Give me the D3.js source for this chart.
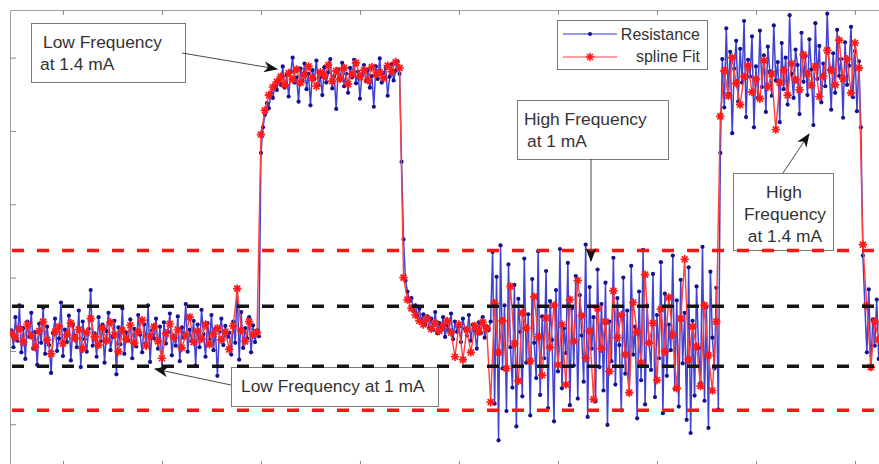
<!DOCTYPE html>
<html>
<head>
<meta charset="utf-8">
<script src="https://cdn.jsdelivr.net/npm/d3@7"></script>
<style>
  body { margin: 0; background: #fff; }
  svg { display: block; font-family: "Liberation Sans", Arial, sans-serif; }
</style>
</head>
<body>
<svg id="chart" width="879" height="464"></svg>
<script>
// Sampling grid of the measurement (x in sample units)
var sampleStart = 48, sampleStep = 2, fitStep = 4;

// Resistance readings, one array per test phase
var lowFreq1mA = [
  228, 205, 246, 214, 262, 198, 231, 189, 240, 219,
  252, 203, 226, 181, 237, 211, 259, 196, 233, 208,
  170, 224, 244, 200, 217, 266, 193, 229, 212, 248,
  187, 235, 221, 205, 255, 178, 240, 216, 199, 230,
  283, 207, 224, 192, 246, 213, 236, 184, 227, 252,
  201, 219, 241, 168, 232, 209, 258, 196, 225, 214,
  243, 190, 230, 206, 249, 222, 198, 236, 211, 262,
  185, 228, 217, 244, 203, 233, 175, 239, 210, 226,
  251, 194, 221, 207, 247, 186, 232, 218, 264, 199,
  229, 213, 241, 180, 236, 205, 256, 223, 192, 238,
  215, 249, 201, 230, 166, 226, 244, 208, 234, 219,
  225, 195, 240, 211, 286, 188, 253, 204, 231, 217,
  246, 198, 235, 212, 228, 220
];
var lowFreq14mA = [
  470, 505, 522, 538, 531, 552, 545, 561, 556, 570,
  563, 588, 559, 576, 547, 581, 600, 566, 573, 540,
  585, 569, 592, 557, 578, 535, 583, 571, 596, 562,
  574, 549, 587, 566, 580, 598, 558, 575, 530, 584,
  570, 593, 561, 578, 552, 586, 573, 597, 565, 581,
  544, 577, 590, 568, 583, 559, 575, 533, 588, 571,
  599, 566, 579, 586, 548, 574, 591, 569, 582, 595,
  578
];
var recovery = [
  458, 352, 296, 281, 268, 272, 255, 262, 248, 258,
  241, 250, 236, 247, 232, 244, 229, 253, 224, 238,
  231, 246, 219, 235, 228, 251, 216, 240, 226, 233,
  212, 244, 230, 221, 249, 214, 236, 227, 203, 239,
  224, 246, 218, 233, 228
];
var highFreq1mA = [
  240, 335, 128, 301, 78, 344, 176, 262, 118, 318,
  205, 150, 290, 97, 271, 226, 138, 326, 184, 250,
  112, 298, 211, 163, 336, 140, 247, 190, 309, 122,
  268, 215, 104, 283, 172, 339, 149, 231, 197, 320,
  126, 258, 180, 302, 135, 276, 221, 158, 345, 110,
  287, 203, 246, 131, 311, 178, 264, 146, 293, 99,
  240, 186, 327, 154, 272, 208, 119, 300, 169, 255,
  142, 316, 195, 233, 108, 281, 160, 338, 127, 262,
  212, 174, 305, 137, 249, 190, 321, 115, 278, 166,
  236, 201, 330, 148, 269, 124, 297, 183, 252, 106,
  314, 88, 241, 139, 288, 204, 157, 342, 132, 260,
  95, 308, 218, 176, 286, 120
];
var highFreq14mA = [
  470, 598, 532, 640, 551, 608, 497, 585, 623, 540,
  612, 566, 650, 519, 597, 574, 629, 505, 588, 545,
  637, 560, 603, 526, 615, 581, 548, 644, 569, 594,
  512, 620, 557, 600, 536, 658, 578, 545, 611, 590,
  523, 634, 567, 602, 549, 625, 584, 508, 647, 571,
  616, 539, 592, 561, 660, 583, 529, 606, 552, 638,
  575, 598, 518, 621, 563, 589, 642, 546, 609, 527,
  595, 505
];
var tail = [330, 262, 198, 284, 176, 243, 207, 270, 189, 236];

// Spline fit values (every second sample)
var fitLow1mA = [
  224, 218, 230, 212, 236, 221, 205, 227, 240, 215,
  196, 226, 233, 210, 222, 238, 217, 229, 203, 225,
  244, 219, 208, 231, 214, 239, 222, 199, 228, 216,
  235, 211, 226, 242, 207, 220, 233, 213, 190, 224,
  237, 218, 229, 204, 221, 246, 212, 227, 216, 236,
  209, 223, 231, 215, 226, 202, 234, 285, 228, 213,
  240, 222, 225
];
var fitLow14mA = [
  495, 528, 549, 560, 567, 574, 563, 579, 570, 584,
  566, 577, 588, 572, 561, 580, 575, 590, 568, 582,
  571, 586, 564, 578, 593, 574, 583, 569, 587, 577,
  580, 572, 589, 581, 594, 586
];
var fitRecovery = [
  300, 270, 258, 249, 241, 236, 244, 230, 238, 227,
  233, 241, 225, 192, 236, 188, 229, 198, 234, 226,
  239, 231
];
var fitHigh1mA = [
  130, 265, 198, 241, 176, 288, 210, 159, 252, 231,
  186, 274, 219, 167, 245, 205, 262, 181, 236, 154,
  270, 213, 296, 248, 190, 227, 134, 258, 203, 240,
  172, 282, 218, 249, 195, 143, 266, 226, 184, 304,
  211, 238, 160, 257, 199, 273, 222, 149, 244, 325,
  188, 233, 206, 152, 262, 194, 146, 240
];
var fitHigh14mA = [
  520, 582, 548, 600, 565, 536, 574, 589, 553, 571,
  544, 596, 560, 578, 502, 566, 583, 549, 592, 570,
  556, 604, 578, 562, 588, 547, 575, 610, 583, 563,
  624, 571, 598, 552, 620, 586
];
var fitTail = [345, 262, 178, 240, 215];

// Threshold levels (dashed lines)
var redLimits = [337, 119];
var blackLimits = [261, 179];

// Tick positions
var xTicks = [100, 200, 300, 400, 500, 600, 700, 800, 900];
var yTicks = [100, 200, 300, 400, 500, 600];

// Build the series
var resistance = [].concat(lowFreq1mA, lowFreq14mA, recovery, highFreq1mA, highFreq14mA, tail)
  .map(function(v, i) { return { t: sampleStart + i * sampleStep, v: v }; });
var fit = [].concat(fitLow1mA, fitLow14mA, fitRecovery, fitHigh1mA, fitHigh14mA, fitTail)
  .map(function(v, i) { return { t: sampleStart + i * fitStep, v: v }; });

var plot = { left: 10, top: 10, right: 901, bottom: 466 };

var x = d3.scaleLinear().domain([46.5, 946.5]).range([plot.left, plot.right]);
var y = d3.scaleLinear().domain([43, 665]).range([plot.bottom, plot.top]);

var svg = d3.select("#chart");

svg.append("defs").append("clipPath").attr("id", "clip")
  .append("rect")
  .attr("x", plot.left).attr("y", plot.top)
  .attr("width", plot.right - plot.left).attr("height", plot.bottom - plot.top);

svg.select("defs").append("marker")
  .attr("id", "head")
  .attr("viewBox", "0 0 14 11")
  .attr("refX", 13).attr("refY", 5.5)
  .attr("markerWidth", 14).attr("markerHeight", 11)
  .attr("markerUnits", "userSpaceOnUse")
  .attr("orient", "auto")
  .append("path")
  .attr("d", "M0,0 L14,5.5 L0,11 L4,5.5 Z")
  .attr("fill", "#111");

// Axes (ticks pointing inward, no labels)
function styleAxis(g) {
  g.selectAll(".domain").attr("stroke", "#a0a0a0");
  g.selectAll(".tick line").attr("stroke", "#8a8a8a");
}
svg.append("g").attr("transform", "translate(0," + plot.top + ")")
  .call(d3.axisTop(x).tickValues(xTicks).tickSize(-5).tickSizeOuter(0).tickFormat(""))
  .call(styleAxis);
svg.append("g").attr("transform", "translate(0," + plot.bottom + ")")
  .call(d3.axisBottom(x).tickValues(xTicks).tickSize(-5).tickSizeOuter(0).tickFormat(""))
  .call(styleAxis);
svg.append("g").attr("transform", "translate(" + plot.left + ",0)")
  .call(d3.axisLeft(y).tickValues(yTicks).tickSize(-6).tickSizeOuter(0).tickFormat(""))
  .call(styleAxis);

var data = svg.append("g").attr("clip-path", "url(#clip)");

var line = d3.line()
  .x(function(d) { return x(d.t); })
  .y(function(d) { return y(d.v); });

// Resistance: blue line with dots
data.append("path")
  .datum(resistance)
  .attr("d", line)
  .attr("fill", "none")
  .attr("stroke", "#2e2ecc")
  .attr("stroke-opacity", 0.9)
  .attr("stroke-width", 1.5);

data.selectAll(".dot")
  .data(resistance)
  .enter().append("circle")
  .attr("class", "dot")
  .attr("cx", function(d) { return x(d.t); })
  .attr("cy", function(d) { return y(d.v); })
  .attr("r", 2.1)
  .attr("fill", "#12128c");

// Spline fit: red line with asterisks
var star = "M-4.2,0L4.2,0M0,-4.2L0,4.2M-3,-3L3,3M-3,3L3,-3";

data.append("path")
  .datum(fit)
  .attr("d", line)
  .attr("fill", "none")
  .attr("stroke", "#ff4040")
  .attr("stroke-width", 1.4);

data.selectAll(".star")
  .data(fit)
  .enter().append("path")
  .attr("class", "star")
  .attr("transform", function(d) { return "translate(" + x(d.t) + "," + y(d.v) + ")"; })
  .attr("d", star)
  .attr("stroke", "#ff1a1a")
  .attr("stroke-width", 1.7);

// Annotation boxes
var boxes = [
  { x: 31, y: 23, w: 154, h: 59, anchor: "start",
    lines: [{ tx: 43, ty: 48, s: "Low Frequency" }, { tx: 40, ty: 70, s: "at 1.4 mA" }] },
  { x: 517, y: 100, w: 151, h: 59, anchor: "start",
    lines: [{ tx: 524, ty: 125, s: "High Frequency" }, { tx: 527, ty: 147, s: "at 1 mA" }] },
  { x: 733, y: 173, w: 100, h: 77, anchor: "middle",
    lines: [{ tx: 784, ty: 198, s: "High" }, { tx: 785, ty: 220, s: "Frequency" }, { tx: 785, ty: 242, s: "at 1.4 mA" }] },
  { x: 231, y: 367, w: 207, h: 39, anchor: "start",
    lines: [{ tx: 241, ty: 392, s: "Low Frequency at 1 mA" }] }
];

var notes = svg.append("g");
boxes.forEach(function(b) {
  notes.append("rect")
    .attr("x", b.x + 0.5).attr("y", b.y + 0.5)
    .attr("width", b.w).attr("height", b.h)
    .attr("fill", "#fff")
    .attr("stroke", "#7a7a7a")
    .attr("stroke-width", 1);
  b.lines.forEach(function(l) {
    notes.append("text")
      .attr("x", l.tx).attr("y", l.ty)
      .attr("text-anchor", b.anchor)
      .attr("font-size", 17.4)
      .attr("fill", "#333")
      .text(l.s);
  });
});

// Dashed threshold lines
svg.append("g").selectAll("line")
  .data(redLimits.map(function(v) { return { v: v, c: "#ff1414" }; })
    .concat(blackLimits.map(function(v) { return { v: v, c: "#151515" }; })))
  .enter().append("line")
  .attr("x1", plot.left + 2).attr("x2", plot.right)
  .attr("y1", function(d) { return y(d.v); })
  .attr("y2", function(d) { return y(d.v); })
  .attr("stroke", function(d) { return d.c; })
  .attr("stroke-width", 3.5)
  .attr("stroke-dasharray", "12,13");

// Arrows
var arrows = [
  [182, 53, 277, 69],
  [591, 159, 591, 261],
  [783, 173, 809, 134],
  [231, 385, 155, 369]
];
svg.append("g").selectAll("line")
  .data(arrows)
  .enter().append("line")
  .attr("x1", function(d) { return d[0]; })
  .attr("y1", function(d) { return d[1]; })
  .attr("x2", function(d) { return d[2]; })
  .attr("y2", function(d) { return d[3]; })
  .attr("stroke", "#333")
  .attr("stroke-width", 0.9)
  .attr("marker-end", "url(#head)");

// Legend
var legend = svg.append("g");
legend.append("rect")
  .attr("x", 557.5).attr("y", 20.5).attr("width", 150).attr("height", 49)
  .attr("fill", "#fff").attr("stroke", "#7a7a7a");
legend.append("line").attr("x1", 563).attr("x2", 617).attr("y1", 34).attr("y2", 34)
  .attr("stroke", "#2e2ecc").attr("stroke-width", 1);
legend.append("circle").attr("cx", 590).attr("cy", 34).attr("r", 2).attr("fill", "#12128c");
legend.append("line").attr("x1", 563).attr("x2", 617).attr("y1", 57).attr("y2", 57)
  .attr("stroke", "#ff4040").attr("stroke-width", 1);
legend.append("path").attr("transform", "translate(590,57)").attr("d", star)
  .attr("stroke", "#ff1a1a").attr("stroke-width", 1.5);
legend.append("text").attr("x", 700).attr("y", 40).attr("text-anchor", "end")
  .attr("font-size", 16).attr("fill", "#333").text("Resistance");
legend.append("text").attr("x", 700).attr("y", 62).attr("text-anchor", "end")
  .attr("font-size", 16).attr("fill", "#333").text("spline Fit");
</script>
</body>
</html>
